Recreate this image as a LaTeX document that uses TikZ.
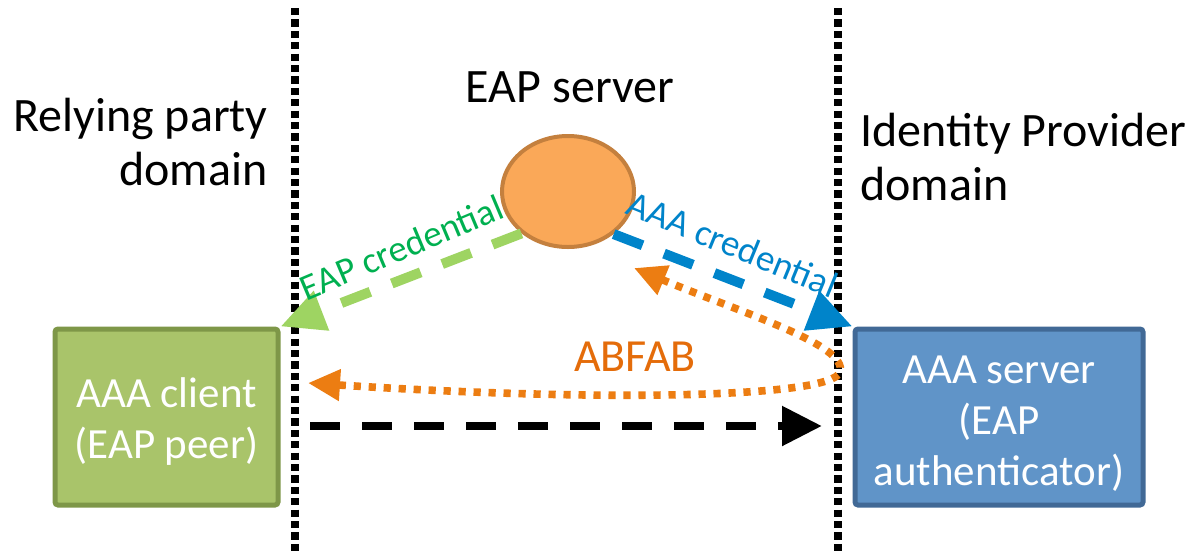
\documentclass[tikz,border=0pt]{standalone}
\usepackage{fontspec}
\setmainfont{Carlito}
\usetikzlibrary{arrows.meta,shapes.geometric}
\definecolor{boxgreen}{RGB}{169,196,106}
\definecolor{boxgreenb}{RGB}{126,151,72}
\definecolor{boxblue}{RGB}{96,148,200}
\definecolor{boxblueb}{RGB}{65,105,150}
\definecolor{srvfill}{RGB}{250,168,88}
\definecolor{srvline}{RGB}{196,128,62}
\definecolor{eapline}{RGB}{158,212,98}
\definecolor{eaptext}{RGB}{0,176,80}
\definecolor{aaablue}{RGB}{0,132,202}
\definecolor{abfabline}{RGB}{236,125,18}
\definecolor{abfabtext}{RGB}{228,108,10}
\tikzset{
  bigtext/.style={font=\fontsize{24}{27}\selectfont, inner sep=0pt},
  boxnode/.style={draw, line width=2.5pt, rounded corners=1.5pt,
    text=white, font=\fontsize{21.5}{25.5}\selectfont, minimum height=88pt},
  divider/.style={line width=3.6pt, dash pattern=on 3.6pt off 2.1pt},
  credline/.style={line width=5pt, dash pattern=on 15.5pt off 11.5pt,
    -{Triangle[length=22pt,width=20pt]}},
  credlabel/.style={font=\fontsize{18.5}{20}\selectfont, inner sep=0pt, anchor=base},
  abfabpath/.style={line width=3.8pt, dash pattern=on 3.6pt off 3.9pt, color=abfabline,
    {Triangle[length=16pt,width=15pt]}-{Triangle[length=16pt,width=15pt]}},
  flowline/.style={line width=4.2pt, dash pattern=on 15pt off 11pt,
    -{Triangle[length=20pt,width=19pt]}}
}
% #1: height of the first baseline above the box centre
\newcommand{\boxlines}[2]{\raisebox{#1}[0pt][0pt]{\begin{tabular}[t]{@{}c@{}}#2\end{tabular}}}
\begin{document}
\begin{tikzpicture}[x=0.5pt,y=-0.5pt]
\useasboundingbox (0,0) rectangle (1191,553);
% domain dividers
\coordinate (d1t) at (295,8);
\coordinate (d1b) at (295,553);
\coordinate (d2t) at (838,8);
\coordinate (d2b) at (838,553);
\draw[divider] (d1t) -- (d1b);
\draw[divider] (d2t) -- (d2b);
% titles
\node[bigtext, anchor=base] (eaptitle) at (570,102) {EAP server};
\node[bigtext, anchor=north east, align=right] (rptitle) at (268,98) {Relying party\\domain};
\node[bigtext, anchor=north west, align=left] (idptitle) at (860,113) {Identity Provider\\domain};
% nodes
\node[ellipse, draw=srvline, fill=srvfill, line width=2pt, minimum width=66pt,
  minimum height=55.5pt, inner sep=0pt] (srv) at (568,191.5) {};
\node[boxnode, draw=boxgreenb, fill=boxgreen, minimum width=111.5pt] (rp) at (166.5,417)
  {\boxlines{5pt}{AAA client\\(EAP peer)}};
\node[boxnode, draw=boxblueb, fill=boxblue, minimum width=144pt] (idp) at (999,417)
  {\boxlines{17pt}{AAA server\\(EAP\\authenticator)}};
% credentials
\draw[credline, eapline] (srv.222) -- (rp.north east);
\node[credlabel, text=eaptext, rotate=22.8] (eaplab) at (406,259) {EAP credential};
\draw[credline, aaablue] (srv.317) -- (idp.north west);
\node[credlabel, text=aaablue, rotate=-22.3] (aaalab) at (728,256) {AAA credential};
% ABFAB
\coordinate (o1) at (634,268);
\coordinate (o2) at (308,383);
\draw[abfabpath] (o1) .. controls (745,314) and (848,345) .. (840,372)
  .. controls (832,398) and (600,402) .. (o2);
\node[font=\fontsize{23}{25}\selectfont, text=abfabtext, inner sep=0pt, anchor=base] (abfab) at (635,371) {ABFAB};
% flow arrow
\coordinate (f1) at (310,426);
\coordinate (f2) at (822,426);
\draw[flowline] (f1) -- (f2);
\end{tikzpicture}
\end{document}
